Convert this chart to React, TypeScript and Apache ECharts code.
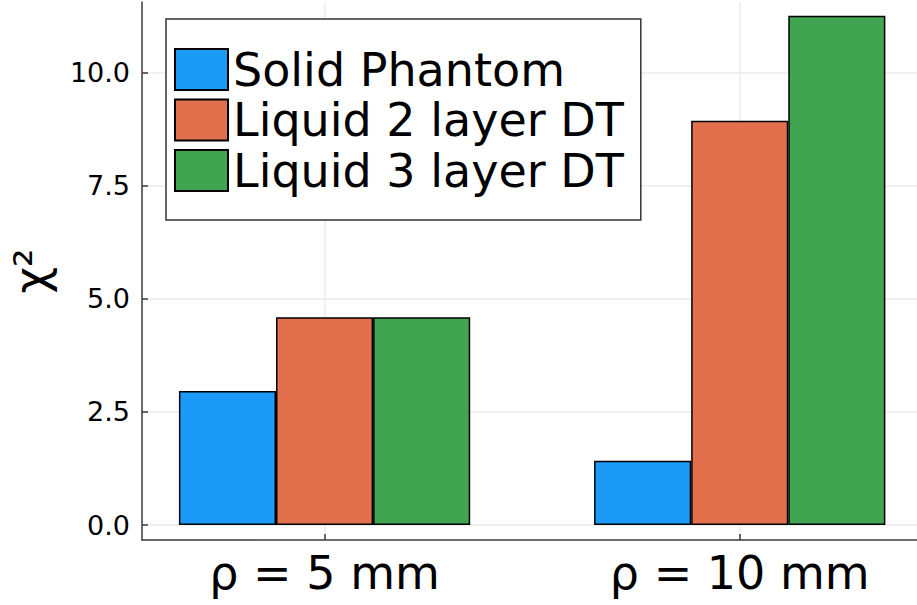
import React, { useEffect, useRef } from "react";
import * as echarts from "echarts";

const categories = ["ρ = 5 mm", "ρ = 10 mm"];
const seriesNames = ["Solid Phantom", "Liquid 2 layer DT", "Liquid 3 layer DT"];
const solidPhantom = [2.96, 1.42];
const liquid2Layer = [4.59, 8.93];
const liquid3Layer = [4.59, 11.25];
const yTicks = [0, 2.5, 5, 7.5, 10];
const colors = ["#1b9bf7", "#e2704c", "#41a450"];

const FONT = "DejaVu Sans";

export default function App() {
  const ref = useRef<HTMLDivElement>(null);
  useEffect(() => {
    if (!ref.current) return;
    const chart = echarts.init(ref.current, undefined, { renderer: "svg" });
    const xVals = categories.map((_, i) => i + 1);
    const values = [solidPhantom, liquid2Layer, liquid3Layer];
    chart.setOption({
      animation: false,
      backgroundColor: "#ffffff",
      grid: { left: 140, right: 0, top: 2, bottom: 65 },
      legend: {
        orient: "vertical",
        left: 166,
        top: 19,
        data: seriesNames,
        icon: "rect",
        itemWidth: 53,
        itemHeight: 41,
        itemGap: 4.5,
        padding: [27.5, 17, 26.5, 8],
        borderColor: "#333333",
        borderWidth: 1.5,
        backgroundColor: "#ffffff",
        textStyle: {
          fontFamily: FONT,
          fontSize: 46,
          lineHeight: 46,
          color: "#000000",
        },
      },
      xAxis: {
        type: "value",
        min: 0.5603,
        max: 2.427,
        axisLine: { show: true, onZero: false, lineStyle: { color: "#3a3a3a", width: 1.5 } },
        axisTick: {
          show: true,
          inside: true,
          length: 6,
          customValues: xVals,
          lineStyle: { color: "#3a3a3a", width: 1.5 },
        },
        axisLabel: {
          customValues: xVals,
          formatter: (v: number) => categories[Math.round(v) - 1] ?? "",
          fontFamily: FONT,
          fontSize: 46,
          color: "#000000",
          margin: 10,
        },
        splitLine: { show: true, lineStyle: { color: "#ebebeb", width: 1.5 } },
      },
      yAxis: {
        type: "value",
        min: -0.331,
        max: 11.556,
        name: "χ²",
        nameLocation: "middle",
        nameGap: 88,
        nameTextStyle: { fontFamily: FONT, fontSize: 46, color: "#000000" },
        axisLine: { show: true, onZero: false, lineStyle: { color: "#3a3a3a", width: 1.5 } },
        axisTick: {
          show: true,
          inside: true,
          length: 6,
          customValues: yTicks,
          lineStyle: { color: "#3a3a3a", width: 1.5 },
        },
        axisLabel: {
          customValues: yTicks,
          formatter: (v: number) => v.toFixed(1),
          fontFamily: FONT,
          fontSize: 27,
          color: "#000000",
          margin: 12,
        },
        splitLine: { show: true, lineStyle: { color: "#ebebeb", width: 1.5 } },
      },
      series: seriesNames.map((name, s) => ({
        name,
        type: "bar",
        barWidth: 97.1,
        barGap: "0%",
        itemStyle: { color: colors[s], borderColor: "#000000", borderWidth: 1.5 },
        data: xVals.map((x, i) => [x, values[s][i]]),
      })),
    });
    return () => chart.dispose();
  }, []);
  return <div ref={ref} style={{ width: 917, height: 605, position: "fixed", left: 0, top: 0 }} />;
}
